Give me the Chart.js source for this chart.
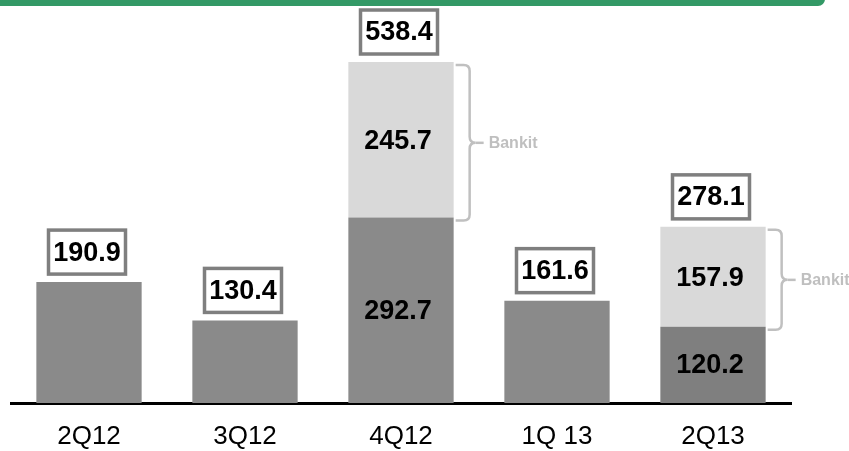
<!DOCTYPE html>
<html>
<head>
<meta charset="utf-8">
<style>
  html, body { margin: 0; padding: 0; background: #ffffff; }
  #wrap { width: 849px; height: 451px; position: relative; }
</style>
<script src="https://cdn.jsdelivr.net/npm/chart.js@4.4.1/dist/chart.umd.min.js"></script>
</head>
<body>
<div id="wrap"><canvas id="chart" width="849" height="451"></canvas></div>
<script>
// Quarterly figures: core amount plus the Bankit contribution where present
const quarters = ['2Q12', '3Q12', '4Q12', '1Q 13', '2Q13'];
const coreValues = [190.9, 130.4, 292.7, 161.6, 120.2];
const bankitValues = [0, 0, 245.7, 0, 157.9];
const bankitLabel = 'Bankit';

const coreColors = ['#8a8a8a', '#8a8a8a', '#8a8a8a', '#8a8a8a', '#7f7f7f'];
const bankitColor = '#d9d9d9';
const boldFont = 'bold 27px "Liberation Sans", Arial, sans-serif';

// Header strip, total boxes, segment values and Bankit braces
const decorations = {
  id: 'decorations',
  beforeDraw(chart) {
    const ctx = chart.ctx;
    ctx.save();
    ctx.fillStyle = '#339966';
    ctx.beginPath();
    ctx.roundRect(-10, -12, 835, 18, [0, 0, 7, 0]);
    ctx.fill();
    ctx.restore();
  },
  afterDatasetsDraw(chart) {
    const ctx = chart.ctx;
    const yScale = chart.scales.y;
    const coreMeta = chart.getDatasetMeta(0);
    ctx.save();
    ctx.textAlign = 'center';
    ctx.textBaseline = 'middle';
    quarters.forEach((q, i) => {
      const bar = coreMeta.data[i];
      const cx = bar.x;
      const right = bar.x + bar.width / 2;
      const total = coreValues[i] + bankitValues[i];
      const yTop = yScale.getPixelForValue(total);

      // total in a framed box above the bar
      const bw = 77, bh = 44;
      const bx = cx - 2 - bw / 2;
      const by = yTop - 8 - bh;
      ctx.fillStyle = '#ffffff';
      ctx.fillRect(bx, by, bw, bh);
      ctx.strokeStyle = '#7f7f7f';
      ctx.lineWidth = 3.5;
      ctx.strokeRect(bx, by, bw, bh);
      ctx.fillStyle = '#000000';
      ctx.font = boldFont;
      ctx.fillText(total.toFixed(1), cx - 2, by + bh / 2 + 1);

      if (bankitValues[i] > 0) {
        const yBase = yScale.getPixelForValue(0);
        const ySplit = yScale.getPixelForValue(coreValues[i]);
        ctx.fillText(coreValues[i].toFixed(1), cx - 3, (yBase + ySplit) / 2 + 1);
        ctx.fillText(bankitValues[i].toFixed(1), cx - 3, (ySplit + yTop) / 2 + 2);

        // curly brace next to the Bankit segment
        const x0 = right + 2;
        const xv = right + 16;
        const t = yTop + 3;
        const b = ySplit + 3;
        const m = (t + b) / 2;
        const r = 6;
        ctx.strokeStyle = '#c0c0c0';
        ctx.lineWidth = 2.5;
        ctx.beginPath();
        ctx.moveTo(x0, t);
        ctx.lineTo(xv - r, t);
        ctx.quadraticCurveTo(xv, t, xv, t + r);
        ctx.lineTo(xv, m - r);
        ctx.quadraticCurveTo(xv, m, xv + r, m);
        ctx.quadraticCurveTo(xv, m, xv, m + r);
        ctx.lineTo(xv, b - r);
        ctx.quadraticCurveTo(xv, b, xv - r, b);
        ctx.lineTo(x0, b);
        ctx.stroke();
        ctx.beginPath();
        ctx.moveTo(xv + r, m);
        ctx.lineTo(xv + 14, m);
        ctx.stroke();

        ctx.fillStyle = '#bfbfbf';
        ctx.font = 'bold 16px "Liberation Sans", Arial, sans-serif';
        ctx.textAlign = 'left';
        ctx.fillText(bankitLabel, right + 35, m + 1);
        ctx.textAlign = 'center';
      }
    });
    ctx.restore();
  }
};

new Chart(document.getElementById('chart'), {
  type: 'bar',
  data: {
    labels: quarters,
    datasets: [
      { label: 'Core', data: coreValues, backgroundColor: coreColors, borderWidth: 0 },
      { label: bankitLabel, data: bankitValues, backgroundColor: bankitColor, borderWidth: 0 }
    ]
  },
  options: {
    responsive: false,
    animation: false,
    devicePixelRatio: 1,
    layout: { padding: { left: 11, right: 58, top: 23, bottom: 0 } },
    datasets: { bar: { categoryPercentage: 1, barPercentage: 0.675 } },
    plugins: { legend: { display: false }, tooltip: { enabled: false } },
    scales: {
      x: {
        stacked: true,
        grid: { display: false, drawTicks: false },
        border: { display: true, color: '#000000', width: 3 },
        ticks: {
          color: '#000000',
          padding: 18,
          font: { family: '"Liberation Sans", Arial, sans-serif', size: 26 }
        },
        afterFit(scale) { scale.height = 48; }
      },
      y: {
        stacked: true,
        display: false,
        min: 0,
        max: 600
      }
    }
  },
  plugins: [decorations]
});
</script>
</body>
</html>
